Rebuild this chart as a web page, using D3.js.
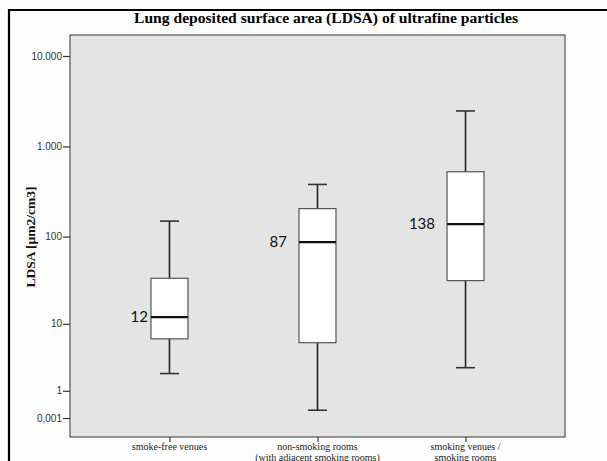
<!DOCTYPE html>
<html><head><meta charset="utf-8">
<script src="https://cdn.jsdelivr.net/npm/d3@7"></script>
<style>
html,body{margin:0;padding:0;background:#fff;}
svg{display:block;}
</style></head>
<body>
<svg id="chart" width="607" height="461"></svg>
<script>
const categories = ["smoke-free venues", "non-smoking rooms|(with adjacent smoking rooms)", "smoking venues /|smoking rooms"];
const whiskerLow  = [2.1, 0.22, 2.6];
const q1          = [6.5, 5.8, 32];
const medians     = [12, 87, 138];
const q3          = [34, 205, 525];
const whiskerHigh = [149, 380, 2470];
const medianLabels = ["12", "87", "138"];
const tickValues = [10000, 1000, 100, 10, 1, 0.001];
const tickLabels = ["10.000", "1.000", "100", "10", "1", "0,001"];

const svg = d3.select("#chart");
const W = 607, H = 461;
const m = {left: 70, right: 565, top: 35, bottom: 437};

// outer frame (left and top edges visible)
svg.append("rect").attr("x", 0).attr("y", 0).attr("width", W).attr("height", H).attr("fill", "#fdfdfd");
svg.append("path").attr("d", `M9,${H} L9,10 L${W},10`).attr("fill", "none").attr("stroke", "#000").attr("stroke-width", 2.2);

// title
svg.append("text").attr("x", 326).attr("y", 23).attr("text-anchor", "middle")
  .style("font-family", "'Liberation Serif','Times New Roman',serif").style("font-weight", "bold").style("font-size", "15.6px")
  .attr("fill", "#000").text("Lung deposited surface area (LDSA) of ultrafine particles");

const y = d3.scaleSymlog().constant(1).domain([-0.62, 17060]).range([m.bottom, m.top]);
const x = d3.scalePoint().domain(categories).range([m.left, m.right]).padding(0.672);

// plot area
svg.append("rect").attr("x", m.left).attr("y", m.top).attr("width", m.right - m.left).attr("height", m.bottom - m.top)
  .attr("fill", "#e4e4e4").attr("stroke", "#555").attr("stroke-width", 1.2);

// y axis
const yAxis = d3.axisLeft(y).tickValues(tickValues).tickSize(7).tickSizeOuter(0)
  .tickFormat((d, i) => tickLabels[i]);
const gy = svg.append("g").attr("transform", `translate(${m.left},0)`).call(yAxis);
gy.select(".domain").remove();
gy.selectAll(".tick line").attr("stroke", "#333").attr("stroke-width", 1.2);
gy.selectAll(".tick text").attr("x", -8).style("font-family", "'Liberation Sans',Arial,sans-serif").style("font-size", "10px").attr("fill", "#333");

// x axis
const xAxis = d3.axisBottom(x).tickSize(5).tickSizeOuter(0).tickFormat("");
const gx = svg.append("g").attr("transform", `translate(0,${m.bottom})`).call(xAxis);
gx.select(".domain").remove();
gx.selectAll(".tick line").attr("stroke", "#333").attr("stroke-width", 1.2);
categories.forEach(c => {
  const lines = c.split("|");
  const t = svg.append("text").attr("x", x(c)).attr("y", 450).attr("text-anchor", "middle")
    .style("font-family", "'Liberation Serif','Times New Roman',serif").style("font-size", "10px").attr("fill", "#222");
  lines.forEach((l, i) => t.append("tspan").attr("x", x(c)).attr("dy", i === 0 ? 0 : 10.5).text(l));
});

// y label
svg.append("text").attr("transform", `translate(35,237) rotate(-90)`).attr("text-anchor", "middle")
  .style("font-family", "'Liberation Serif','Times New Roman',serif").style("font-weight", "bold").style("font-size", "13.5px")
  .attr("fill", "#111").text("LDSA [µm2/cm3]");

// boxes
const boxW = 37, capW = 19;
categories.forEach((c, i) => {
  const cx = x(c);
  const g = svg.append("g");
  g.append("line").attr("x1", cx).attr("x2", cx).attr("y1", y(q3[i])).attr("y2", y(whiskerHigh[i])).attr("stroke", "#222").attr("stroke-width", 1.6);
  g.append("line").attr("x1", cx).attr("x2", cx).attr("y1", y(q1[i])).attr("y2", y(whiskerLow[i])).attr("stroke", "#222").attr("stroke-width", 1.6);
  g.append("line").attr("x1", cx - capW / 2).attr("x2", cx + capW / 2).attr("y1", y(whiskerHigh[i])).attr("y2", y(whiskerHigh[i])).attr("stroke", "#333").attr("stroke-width", 1.6);
  g.append("line").attr("x1", cx - capW / 2).attr("x2", cx + capW / 2).attr("y1", y(whiskerLow[i])).attr("y2", y(whiskerLow[i])).attr("stroke", "#333").attr("stroke-width", 1.6);
  g.append("rect").attr("x", cx - boxW / 2).attr("y", y(q3[i])).attr("width", boxW).attr("height", y(q1[i]) - y(q3[i]))
    .attr("fill", "#fff").attr("stroke", "#555").attr("stroke-width", 1.2);
  g.append("line").attr("x1", cx - boxW / 2).attr("x2", cx + boxW / 2).attr("y1", y(medians[i])).attr("y2", y(medians[i])).attr("stroke", "#111").attr("stroke-width", 2.2);
  const gap = i === 0 ? 3 : 12;
  svg.append("text").attr("x", cx - boxW / 2 - gap).attr("y", y(medians[i])).attr("dy", "0.35em").attr("text-anchor", "end")
    .style("font-family", "Lato,'Open Sans',sans-serif").style("font-size", "15px").attr("fill", "#111").text(medianLabels[i]);
});
</script>
</body></html>
